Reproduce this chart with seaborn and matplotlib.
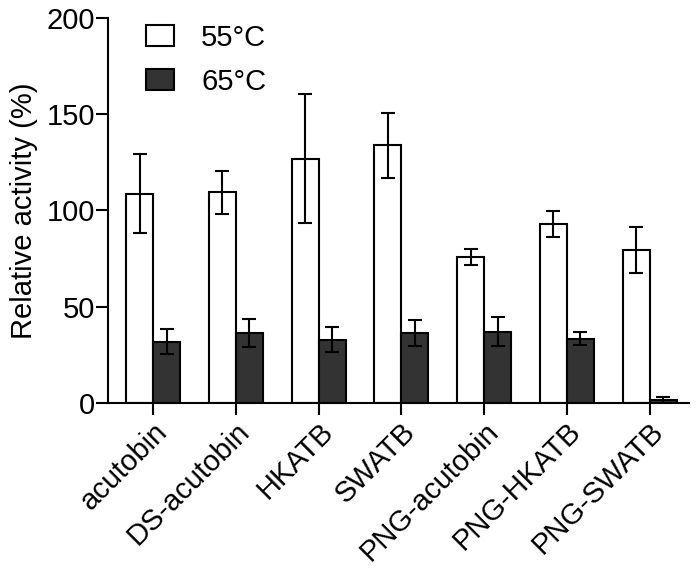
"""
Relative activity of acutobin variants at 55°C / 65°C
"""

import numpy as np
import pandas as pd
import matplotlib
matplotlib.use('Agg')
import matplotlib.pyplot as plt
import seaborn as sns
from matplotlib.patches import Patch

# 数据
samples = ['acutobin', 'DS-acutobin', 'HKATB', 'SWATB',
           'PNG-acutobin', 'PNG-HKATB', 'PNG-SWATB']
temps = ['55°C', '65°C']
act_55 = [108.6, 109.3, 126.8, 133.7, 75.8, 92.8, 79.6]
err_55 = [20.5, 11.2, 33.5, 17.0, 4.2, 6.8, 12.0]
act_65 = [31.8, 36.4, 32.7, 36.4, 36.9, 33.4, 1.6]
err_65 = [6.4, 7.2, 6.5, 6.7, 7.5, 3.5, 1.5]

df = pd.DataFrame({
    'sample': samples * 2,
    'temp': [temps[0]] * len(samples) + [temps[1]] * len(samples),
    'activity': act_55 + act_65,
    'err': err_55 + err_65,
})

sns.set_style('ticks')
plt.rcParams['font.family'] = ['Liberation Sans', 'DejaVu Sans']
plt.rcParams['text.color'] = 'black'
plt.rcParams['axes.labelcolor'] = 'black'

fig = plt.figure(figsize=(6.97, 5.74), dpi=100)
ax = fig.add_axes([0.155, 0.298, 0.834, 0.671])

colors = {'55°C': 'white', '65°C': '#333333'}
sns.barplot(data=df, x='sample', y='activity', hue='temp', order=samples,
            hue_order=temps, palette=colors, width=0.65, errorbar=None,
            edgecolor='black', linewidth=1.5, legend=False, ax=ax)

# 误差线
for cont, temp in zip(ax.containers, temps):
    sub = df[df['temp'] == temp].set_index('sample').loc[samples]
    xs = [b.get_x() + b.get_width() / 2 for b in cont]
    ax.errorbar(xs, sub['activity'], yerr=sub['err'], fmt='none',
                ecolor='black', elinewidth=1.5, capsize=5, capthick=1.5,
                zorder=3)

ax.set_ylim(0, 200)
ax.set_yticks([0, 50, 100, 150, 200])
ax.set_xlim(-0.545, 6.48)
ax.set_xlabel('')
ax.set_ylabel('Relative activity (%)', fontsize=21, labelpad=6, color='black')
ax.tick_params(axis='both', labelsize=21, width=1.5, length=8.5,
               color='black', labelcolor='black')
ax.tick_params(axis='y', pad=1)
ax.tick_params(axis='x', pad=2)
ax.set_xticks(range(len(samples)))
ax.set_xticklabels(samples, rotation=45, ha='right', rotation_mode='anchor')

for s in ['left', 'bottom']:
    ax.spines[s].set_linewidth(1.5)
    ax.spines[s].set_color('black')
sns.despine(ax=ax)

handles = [Patch(facecolor=colors[t], edgecolor='black', linewidth=1.5)
           for t in temps]
ax.legend(handles, temps, loc='upper left', bbox_to_anchor=(0.065, 0.985),
          frameon=False, fontsize=21, handlelength=0.95, handleheight=0.72,
          handletextpad=0.95, labelspacing=0.55, borderpad=0,
          borderaxespad=0, labelcolor='black')

fig.savefig('out.png', dpi=100)
